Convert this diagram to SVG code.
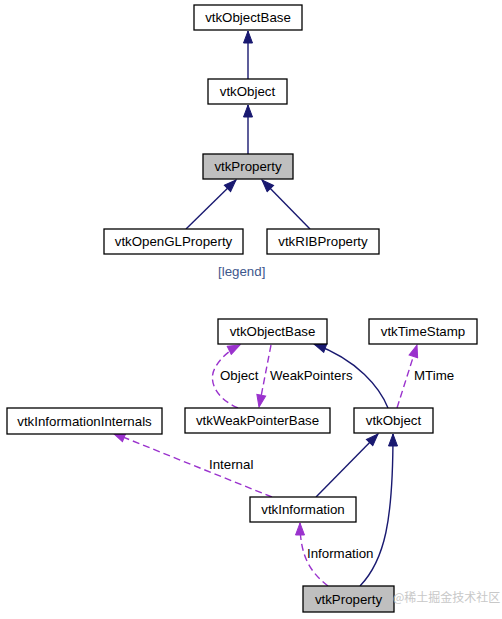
<svg xmlns="http://www.w3.org/2000/svg" width="502" height="619" viewBox="0 0 502 619">
<defs>
<style>
.box{fill:#ffffff;stroke:#000000;stroke-width:1.3}
.cur{fill:#bfbfbf;stroke:#000000;stroke-width:1.3}
.lbl{font-family:"Liberation Sans",Arial,sans-serif;font-size:13.3px;fill:#000000;text-anchor:middle}
.elbl{font-family:"Liberation Sans",Arial,sans-serif;font-size:13.3px;fill:#000000}
.inh{fill:none;stroke:#191970;stroke-width:1.4}
.use{fill:none;stroke:#9a32cd;stroke-width:1.4;stroke-dasharray:7,4}
</style>
<marker id="an" markerUnits="userSpaceOnUse" markerWidth="14" markerHeight="11" viewBox="0 0 14 11" refX="13" refY="5.5" orient="auto">
<path d="M1,1 L13,5.5 L1,10 z" fill="#191970" stroke="#191970" stroke-width="1"/>
</marker>
<marker id="ap" markerUnits="userSpaceOnUse" markerWidth="14" markerHeight="11" viewBox="0 0 14 11" refX="13" refY="5.5" orient="auto">
<path d="M1,1 L13,5.5 L1,10 z" fill="#9a32cd" stroke="#9a32cd" stroke-width="1"/>
</marker>
</defs>
<rect width="502" height="619" fill="#ffffff"/>
<g id="connectors">
<path class="inh" d="M248,79 L248,31" marker-end="url(#an)"/>
<path class="inh" d="M248,154 L248,105" marker-end="url(#an)"/>
<path class="inh" d="M186,229 L236,180" marker-end="url(#an)"/>
<path class="inh" d="M310,229 L262,180" marker-end="url(#an)"/>
<path class="inh" d="M388,408 C380,388 358,360 314,344" marker-end="url(#an)"/>
<path class="use" d="M397,408 L417,345" marker-end="url(#ap)"/>
<path class="use" d="M271,345 L259,407" marker-end="url(#ap)"/>
<path class="use" d="M238,408 C215,398 208,380 215,368 C220,358 230,350 240,345" marker-end="url(#ap)"/>
<path class="use" d="M272,497 L113,433" marker-end="url(#ap)"/>
<path class="inh" d="M316,497 L378,434" marker-end="url(#an)"/>
<path class="inh" d="M360,586 C385,560 393,520 393,434" marker-end="url(#an)"/>
<path class="use" d="M328,586 C310,572 300,556 300,523" marker-end="url(#ap)"/>
<text class="elbl" x="220" y="380">Object</text>
<text class="elbl" x="270" y="380">WeakPointers</text>
<text class="elbl" x="414" y="380">MTime</text>
<text class="elbl" x="209" y="469">Internal</text>
<text class="elbl" x="307" y="558">Information</text>
</g>
<g id="top_vtkObjectBase"><rect class="box" x="194" y="5" width="108" height="25"/><text class="lbl" x="248" y="22.2">vtkObjectBase</text></g>
<g id="top_vtkObject"><rect class="box" x="208" y="79" width="79" height="25"/><text class="lbl" x="247.5" y="96.2">vtkObject</text></g>
<g id="top_vtkProperty"><rect class="cur" x="203" y="154" width="90" height="25"/><text class="lbl" x="248" y="171.2">vtkProperty</text></g>
<g id="vtkOpenGLProperty"><rect class="box" x="104" y="229" width="139" height="25"/><text class="lbl" x="173.5" y="246.2">vtkOpenGLProperty</text></g>
<g id="vtkRIBProperty"><rect class="box" x="267" y="229" width="112" height="25"/><text class="lbl" x="323" y="246.2">vtkRIBProperty</text></g>
<g id="legend"><text x="241.7" y="276" font-family="Liberation Sans, Arial, sans-serif" font-size="13.3px" fill="#3d578c" text-anchor="middle">[legend]</text></g>
<g id="vtkObjectBase"><rect class="box" x="218" y="319" width="109" height="25"/><text class="lbl" x="272.5" y="336.2">vtkObjectBase</text></g>
<g id="vtkTimeStamp"><rect class="box" x="369" y="319" width="108" height="25"/><text class="lbl" x="423" y="336.2">vtkTimeStamp</text></g>
<g id="vtkInformationInternals"><rect class="box" x="7" y="408" width="155" height="26"/><text class="lbl" x="84.5" y="425.7">vtkInformationInternals</text></g>
<g id="vtkWeakPointerBase"><rect class="box" x="185" y="408" width="145" height="25"/><text class="lbl" x="257.5" y="425.2">vtkWeakPointerBase</text></g>
<g id="vtkObject"><rect class="box" x="354" y="408" width="79" height="25"/><text class="lbl" x="393.5" y="425.2">vtkObject</text></g>
<g id="vtkInformation"><rect class="box" x="250" y="497" width="106" height="25"/><text class="lbl" x="303" y="514.2">vtkInformation</text></g>
<g id="vtkProperty"><rect class="cur" x="303" y="586" width="91" height="26"/><text class="lbl" x="348.5" y="603.7">vtkProperty</text></g>
<text x="393" y="602" font-family="Noto Sans CJK SC, sans-serif" font-size="12px" fill="#c8c8c8">@稀土掘金技术社区</text>
</svg>
